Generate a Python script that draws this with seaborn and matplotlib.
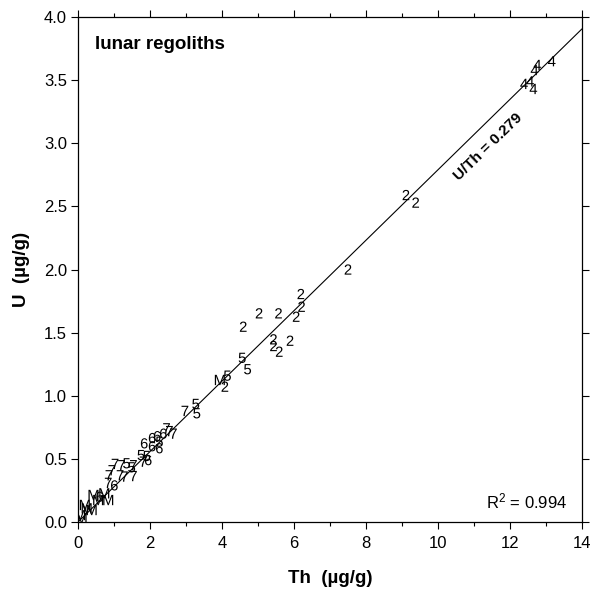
import matplotlib
matplotlib.use("Agg")
import matplotlib.pyplot as plt
import seaborn as sns
import pandas as pd
import numpy as np
from matplotlib.ticker import MultipleLocator

sns.set_style("white")
plt.rcParams['font.family'] = ['Liberation Sans', 'DejaVu Sans']
plt.rcParams['mathtext.fontset'] = 'custom'
plt.rcParams['mathtext.rm'] = 'Liberation Sans'
plt.rcParams['mathtext.it'] = 'Liberation Sans'
for key in ['text.color', 'axes.labelcolor', 'xtick.color', 'ytick.color']:
    plt.rcParams[key] = 'black'

# ---- data ----
g4_th = [12.76, 12.68, 12.39, 12.56, 12.65, 13.16]
g4_u = [3.62, 3.58, 3.47, 3.49, 3.43, 3.65]

g2_th = [9.11, 9.38, 7.50, 6.19, 6.21, 6.06, 5.03, 5.57, 4.59, 5.43, 5.43, 5.59, 5.89, 4.08]
g2_u = [2.59, 2.53, 2.00, 1.806, 1.705, 1.626, 1.653, 1.653, 1.547, 1.447, 1.394, 1.349, 1.436, 1.072]

g5_th = [4.56, 4.71, 4.15, 3.27, 3.30, 1.91, 1.75, 1.49, 1.35, 2.26]
g5_u = [1.30, 1.21, 1.159, 0.935, 0.861, 0.523, 0.53, 0.433, 0.465, 0.636]

gM_th = [3.94, 0.43, 0.73, 0.84, 0.56, 0.19, 0.24, 0.06, 0.38, 0.10]
gM_u = [1.125, 0.214, 0.227, 0.174, 0.174, 0.135, 0.108, 0.055, 0.095, 0.03]

g6_th = [2.06, 2.20, 2.26, 2.06, 1.84, 1.95, 2.37, 1.01, 0.60]
g6_u = [0.665, 0.68, 0.584, 0.60, 0.623, 0.49, 0.70, 0.29, 0.20]

g7_th = [2.97, 2.46, 2.65, 2.54, 1.81, 1.54, 1.03, 1.21, 0.94, 0.86, 1.17, 1.29, 0.84, 1.54]
g7_u = [0.88, 0.742, 0.70, 0.72, 0.478, 0.45, 0.46, 0.45, 0.41, 0.37, 0.37, 0.36, 0.31, 0.364]

ratio = 0.279
r2_text = "R$^2$ = 0.994"
fit_label = "U/Th = 0.279"

groups = {'2': (g2_th, g2_u), '4': (g4_th, g4_u), '5': (g5_th, g5_u),
          '6': (g6_th, g6_u), '7': (g7_th, g7_u), 'M': (gM_th, gM_u)}
rows = []
for k, (xs, ys) in groups.items():
    for a, b in zip(xs, ys):
        rows.append({'Th': a, 'U': b, 'grp': k})
df = pd.DataFrame(rows)

markers = {'2': '$2$', '4': '$4$', '5': '$5$', '6': '$6$', '7': '$7$', 'M': '$\\mathrm{M}$'}

fig = plt.figure(figsize=(5.92, 5.89), dpi=100)
ax = fig.add_axes([78/592, 1-522/589, 504/592, 505/589])

# fit line
line_x = np.array([0, 14])
ax.plot(line_x, ratio * line_x, color='black', lw=0.8, zorder=1)

sns.scatterplot(data=df, x='Th', y='U', style='grp', markers=markers,
                color='black', s=55, linewidth=0.0, edgecolor='none',
                legend=False, ax=ax, zorder=2)

ax.set_xlim(0, 14)
ax.set_ylim(0, 4)
ax.xaxis.set_major_locator(MultipleLocator(2))
ax.xaxis.set_minor_locator(MultipleLocator(1))
ax.set_yticks(np.arange(0, 4.01, 0.5))
ax.set_yticklabels([f"{v:.1f}" for v in np.arange(0, 4.01, 0.5)])

ax.tick_params(which='both', direction='out', top=True, right=True,
               bottom=True, left=True, labelsize=12, color='black',
               labelcolor='black', width=0.8)
ax.tick_params(which='major', length=5)
ax.tick_params(which='minor', length=3)
ax.tick_params(axis='x', which='major', pad=5)
ax.tick_params(axis='y', which='major', pad=3)
for s in ax.spines.values():
    s.set_color('black')
    s.set_linewidth(0.9)

ax.set_xlabel("Th  (µg/g)", fontsize=13.5, fontweight='bold', labelpad=14, color='black')
ax.set_ylabel("U  (µg/g)", fontsize=13.5, fontweight='bold', labelpad=10, color='black')

ax.text(0.033, 0.945, "lunar regoliths", transform=ax.transAxes,
        fontsize=13.5, fontweight='bold', va='center', ha='left', color='black')
ax.text(0.97, 0.04, r2_text, transform=ax.transAxes, fontsize=12,
        ha='right', va='center', color='black')
ax.text(11.4, 2.97, fit_label, fontsize=11, fontweight='bold', color='black',
        rotation=44.3, rotation_mode='anchor', ha='center', va='center')

fig.savefig("out.png", dpi=100)
